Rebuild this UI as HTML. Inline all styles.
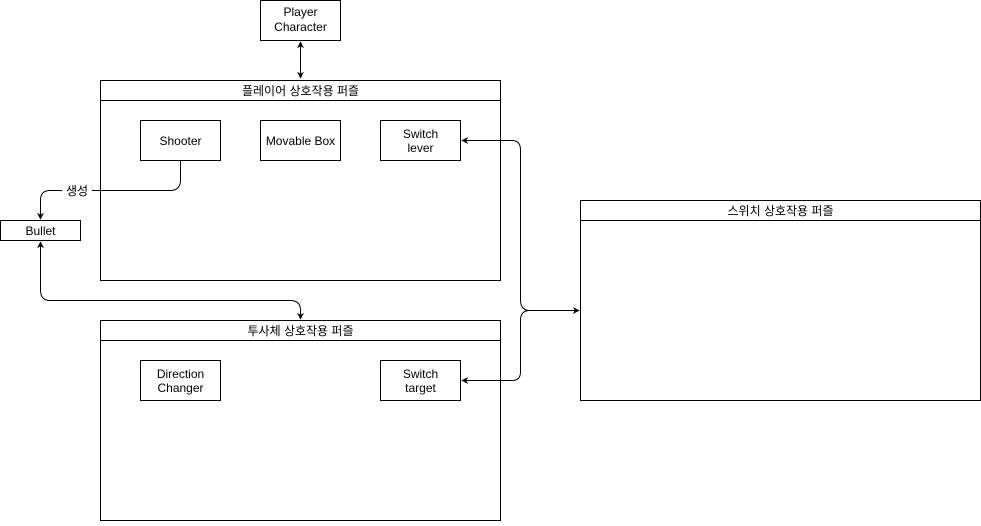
<!DOCTYPE html>
<html><head><meta charset="utf-8"><style>
body{margin:0;background:#fff;}
svg text{font-family:"Liberation Sans","Noto Sans CJK KR",sans-serif;font-size:12px;fill:#000;}
</style></head><body>
<svg width="981" height="521" xmlns="http://www.w3.org/2000/svg">
<defs><marker id="a" viewBox="0 0 10 10" refX="9" refY="5" markerWidth="7" markerHeight="7" orient="auto-start-reverse"><path d="M0,0 L10,5 L0,10 L3,5 z" fill="#000"/></marker></defs>
<g fill="#fff" stroke="#000" stroke-width="1">
<rect x="260.5" y="0.5" width="80" height="40"/>
<rect x="100.5" y="80.5" width="400" height="200"/><line x1="100.5" y1="100.5" x2="500.5" y2="100.5"/>
<rect x="140.5" y="120.5" width="80" height="40"/>
<rect x="260.5" y="120.5" width="80" height="40"/>
<rect x="380.5" y="120.5" width="80" height="40"/>
<rect x="0.5" y="220.5" width="80" height="20"/>
<rect x="100.5" y="320.5" width="400" height="200"/><line x1="100.5" y1="340.5" x2="500.5" y2="340.5"/>
<rect x="140.5" y="360.5" width="80" height="40"/>
<rect x="380.5" y="360.5" width="80" height="40"/>
<rect x="580.5" y="200.5" width="400" height="200"/><line x1="580.5" y1="220.5" x2="980.5" y2="220.5"/>
</g>
<g fill="none" stroke="#000" stroke-width="1">
<line x1="300.5" y1="42" x2="300.5" y2="78" marker-start="url(#a)" marker-end="url(#a)"/>
<path d="M180.5,160 V180 Q180.5,190.5 170,190.5 H50 Q40.5,190.5 40.5,200 V219" marker-end="url(#a)"/>
<path d="M40.5,242 V290 Q40.5,300.5 50,300.5 H290 Q300.5,300.5 300.5,310 V319" marker-start="url(#a)" marker-end="url(#a)"/>
<path d="M462,140.5 H512 Q520.5,140.5 520.5,150 V300 Q520.5,310.5 530,310.5 H579" marker-start="url(#a)" marker-end="url(#a)"/>
<path d="M462,380.5 H512 Q520.5,380.5 520.5,372 V320 Q520.5,310.5 530,310.5" marker-start="url(#a)"/>
</g>
<rect x="62" y="182" width="30" height="16" fill="#fff"/>
<g text-anchor="middle">
<text x="300.5" y="16">Player</text><text x="300.5" y="31">Character</text>
<text x="300.5" y="95">플레이어 상호작용 퍼즐</text>
<text x="180.5" y="145">Shooter</text>
<text x="300.5" y="145">Movable Box</text>
<text x="420.5" y="138">Switch</text><text x="420.5" y="152">lever</text>
<text x="77" y="195">생성</text>
<text x="40.5" y="235">Bullet</text>
<text x="300.5" y="335">투사체 상호작용 퍼즐</text>
<text x="180.5" y="378">Direction</text><text x="180.5" y="392">Changer</text>
<text x="420.5" y="378">Switch</text><text x="420.5" y="392">target</text>
<text x="780.5" y="215">스위치 상호작용 퍼즐</text>
</g>
</svg>
</body></html>
